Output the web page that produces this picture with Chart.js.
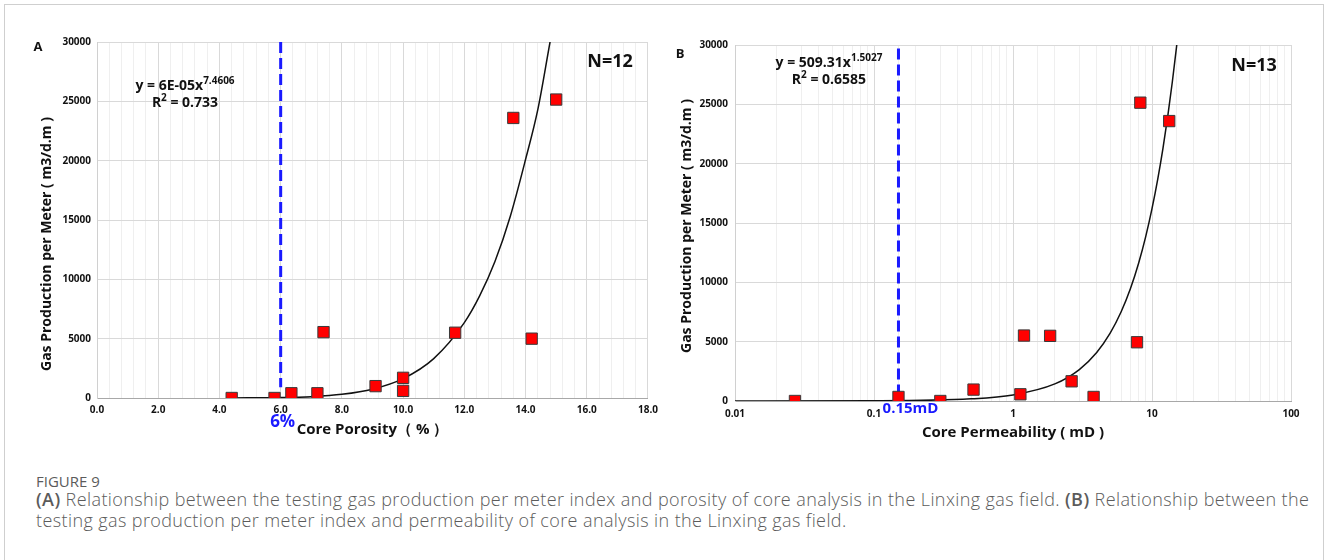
<!DOCTYPE html>
<html>
<head>
<meta charset="utf-8">
<script src="https://cdn.jsdelivr.net/npm/chart.js@4.4.1/dist/chart.umd.min.js"></script>
<style>
  body { margin: 0; background: #fff; width: 1328px; height: 560px; overflow: hidden; position: relative; }
  .frame { position: absolute; left: 4px; top: 4px; width: 1318px; height: 620px; border: 1px solid #cfcfcf; }
  canvas { position: absolute; top: 0; }
  .cap { position: absolute; left: 36px; font-family: "Open Sans", "Noto Sans", sans-serif; color: #5b5b5b; white-space: nowrap; }
  .fig { top: 471px; font-size: 15px; line-height: 21px; }
  .txt { top: 489px; font-size: 18px; line-height: 21px; font-weight: 300; letter-spacing: 0.4px; }
  .txt b { font-weight: 600; }
</style>
</head>
<body>
<div class="frame"></div>
<canvas id="chartA" width="664" height="450" style="left:0"></canvas>
<canvas id="chartB" width="664" height="450" style="left:664px"></canvas>
<div class="cap fig">FIGURE 9</div>
<div class="cap txt"><b>(A)</b> Relationship between the testing gas production per meter index and porosity of core analysis in the Linxing gas field. <b>(B)</b> Relationship between the<br>testing gas production per meter index and permeability of core analysis in the Linxing gas field.</div>
<script>
// panel A: porosity
const porosity = [4.4, 5.8, 6.35, 7.2, 7.4, 9.1, 10.0, 10.0, 11.7, 13.6, 14.2, 15.0];
const porosityGas = [0, 0, 400, 400, 5550, 1000, 1700, 600, 5500, 23600, 5000, 25150];
const porosityFitX = [4.4, 6, 7, 8, 9, 10, 11, 12, 12.5, 13, 13.5, 14, 14.4, 14.8, 15.0];
const porosityFitY = [4, 36, 115, 310, 740, 1630, 3320, 6350, 8600, 11500, 15300, 20100, 24300, 30000, 32800];
const porosityCut = 6;

// panel B: permeability
const perm = [0.027, 0.15, 0.30, 0.52, 1.13, 1.20, 1.85, 2.64, 3.80, 7.80, 8.24, 13.3];
const permGas = [0, 340, 0, 960, 565, 5515, 5490, 1660, 340, 4950, 25140, 23590];
const permFitX = [0.01, 0.1, 0.5, 1, 2, 3, 4, 5, 6, 7, 8, 9, 10, 11, 12, 13, 14, 15, 16];
const permFitY = [1, 16, 180, 510, 1440, 2650, 4090, 5720, 7520, 9480, 11590, 13830, 16210, 18700, 21310, 24040, 26880, 29800, 32800];
const permCut = 0.15;

const yTicks = [0, 5000, 10000, 15000, 20000, 25000, 30000];

const FONT = '"Open Sans", "Noto Sans", sans-serif';
const zip = (xs, ys) => xs.map((x, i) => ({ x: x, y: ys[i] }));

function drawSup(ctx, base, sup, cx, cy, size) {
  ctx.font = 'bold ' + size + 'px ' + FONT;
  const w1 = ctx.measureText(base).width;
  ctx.font = 'bold ' + Math.round(size * 0.68) + 'px ' + FONT;
  const w2 = ctx.measureText(sup).width;
  const x0 = cx - (w1 + w2) / 2;
  ctx.textAlign = 'left';
  ctx.textBaseline = 'middle';
  ctx.font = 'bold ' + size + 'px ' + FONT;
  ctx.fillText(base, x0, cy);
  ctx.font = 'bold ' + Math.round(size * 0.68) + 'px ' + FONT;
  ctx.fillText(sup, x0 + w1, cy - size * 0.35);
}

const labelsPlugin = {
  id: 'labels',
  afterDraw(chart, args, opts) {
    const ctx = chart.ctx;
    const x = chart.scales.x;
    const area = chart.chartArea;
    ctx.save();
    ctx.fillStyle = '#111';
    ctx.textAlign = 'center';
    ctx.textBaseline = 'middle';
    ctx.font = 'bold 13px ' + FONT;
    ctx.fillText(opts.panel, opts.panelPos[0], opts.panelPos[1]);

    // y title
    ctx.save();
    ctx.translate(opts.yTitle[0], opts.yTitle[1]);
    ctx.rotate(-Math.PI / 2);
    ctx.font = 'bold 14px ' + FONT;
    ctx.fillText('Gas Production per Meter ( m3/d.m )', 0, 0);
    ctx.restore();

    // x title
    ctx.font = 'bold 15px ' + FONT;
    ctx.fillText(opts.xTitle, (area.left + area.right) / 2, opts.xTitleY);

    // cutoff label
    ctx.fillStyle = '#1a1aff';
    ctx.font = 'bold ' + opts.cutSize + 'px ' + FONT;
    ctx.fillText(opts.cutText, x.getPixelForValue(opts.cut) + opts.cutDx, opts.cutY);

    // N
    ctx.fillStyle = '#111';
    ctx.font = 'bold 18px ' + FONT;
    ctx.fillText(opts.n, opts.nPos[0], opts.nPos[1]);

    // equation and R2
    drawSup(ctx, opts.eq[0], opts.eq[1], opts.eqPos[0], opts.eqPos[1], 14);
    ctx.font = 'bold 14px ' + FONT;
    const rest = ' = ' + opts.r2;
    const wR = ctx.measureText('R').width;
    ctx.font = 'bold 10px ' + FONT;
    const w2 = ctx.measureText('2').width;
    ctx.font = 'bold 14px ' + FONT;
    const wRest = ctx.measureText(rest).width;
    const rx = opts.eqPos[0] - (wR + w2 + wRest) / 2;
    const ry = opts.eqPos[1] + 17;
    ctx.textAlign = 'left';
    ctx.fillText('R', rx, ry);
    ctx.fillText(rest, rx + wR + w2, ry);
    ctx.font = 'bold 10px ' + FONT;
    ctx.fillText('2', rx + wR, ry - 5);
    ctx.restore();
  }
};

function isDecade(v) {
  const l = Math.log10(v);
  return Math.abs(l - Math.round(l)) < 1e-6;
}
function isEven(v) {
  return Math.abs(v / 2 - Math.round(v / 2)) < 1e-6;
}

function makeChart(id, cfg) {
  return new Chart(document.getElementById(id).getContext('2d'), {
    type: 'scatter',
    data: {
      datasets: [
        {
          data: zip(cfg.xs, cfg.ys),
          pointStyle: 'rect',
          pointRadius: 8,
          backgroundColor: '#ff0000',
          borderColor: '#3a3a3a',
          borderWidth: 1,
          showLine: false
        },
        {
          data: zip(cfg.fitX, cfg.fitY),
          showLine: true,
          borderColor: '#111',
          borderWidth: 1.5,
          pointRadius: 0,
          cubicInterpolationMode: 'monotone'
        },
        {
          data: [{ x: cfg.cut, y: cfg.cutTop }, { x: cfg.cut, y: cfg.cutBottom }],
          showLine: true,
          borderColor: '#1a1aff',
          borderWidth: 3,
          borderDash: [11, 5],
          pointRadius: 0
        }
      ]
    },
    options: {
      responsive: false,
      animation: false,
      layout: { padding: cfg.padding },
      plugins: { legend: { display: false }, tooltip: { enabled: false }, labels: cfg.labels },
      scales: {
        x: cfg.xScale,
        y: {
          min: 0,
          max: 30000,
          afterBuildTicks: s => { s.ticks = yTicks.map(v => ({ value: v })); },
          afterFit: s => { s.width = cfg.yWidth; },
          ticks: {
            padding: cfg.yPad, color: '#111', font: { family: FONT, size: 10, weight: 'bold' },
            callback: v => String(v)
          },
          grid: { color: '#d9d9d9', drawTicks: false },
          border: { color: '#d0d0d0' }
        }
      }
    },
    plugins: [labelsPlugin]
  });
}

makeChart('chartA', {
  xs: porosity, ys: porosityGas, fitX: porosityFitX, fitY: porosityFitY,
  cut: porosityCut, cutTop: 30000, cutBottom: 900,
  padding: { top: 42, right: 12, left: 0, bottom: 0 },
  yWidth: 97, yPad: 6,
  xScale: {
    type: 'linear', min: 0, max: 18,
    afterFit: s => { s.height = 52; },
    ticks: {
      stepSize: 0.4, maxTicksLimit: 100, autoSkip: false, maxRotation: 0, padding: 6,
      color: '#111', font: { family: FONT, size: 10, weight: 'bold' },
      callback: v => isEven(v) ? v.toFixed(1) : ''
    },
    grid: { drawTicks: false, color: c => isEven(c.tick.value) ? '#d9d9d9' : '#efefef' },
    border: { color: '#a8a8a8' }
  },
  labels: {
    panel: 'A', panelPos: [38, 47], yTitle: [47, 244],
    xTitle: 'Core Porosity（ % ）', xTitleY: 430,
    cut: porosityCut, cutText: '6%', cutDx: 2, cutY: 422, cutSize: 17,
    n: 'N=12', nPos: [610, 62],
    eq: ['y = 6E-05x', '7.4606'], r2: '0.733', eqPos: [185, 86]
  }
});

makeChart('chartB', {
  xs: perm, ys: permGas, fitX: permFitX, fitY: permFitY,
  cut: permCut, cutTop: 29700, cutBottom: 300,
  padding: { top: 45, right: 37, left: 0, bottom: 0 },
  yWidth: 71, yPad: 7,
  xScale: {
    type: 'logarithmic', min: 0.01, max: 100,
    afterFit: s => { s.height = 49; },
    ticks: {
      autoSkip: false, maxRotation: 0, padding: 7,
      color: '#111', font: { family: FONT, size: 10, weight: 'bold' },
      callback: v => isDecade(v) ? String(Number(v.toPrecision(3))) : ''
    },
    grid: { drawTicks: false, color: c => isDecade(c.tick.value) ? '#d9d9d9' : '#efefef' },
    border: { color: '#a8a8a8' }
  },
  labels: {
    panel: 'B', panelPos: [16, 54], yTitle: [23, 226],
    xTitle: 'Core Permeability ( mD )', xTitleY: 433,
    cut: permCut, cutText: '0.15mD', cutDx: 12, cutY: 409, cutSize: 15,
    n: 'N=13', nPos: [590, 66],
    eq: ['y = 509.31x', '1.5027'], r2: '0.6585', eqPos: [165, 63]
  }
});
</script>
</body>
</html>
